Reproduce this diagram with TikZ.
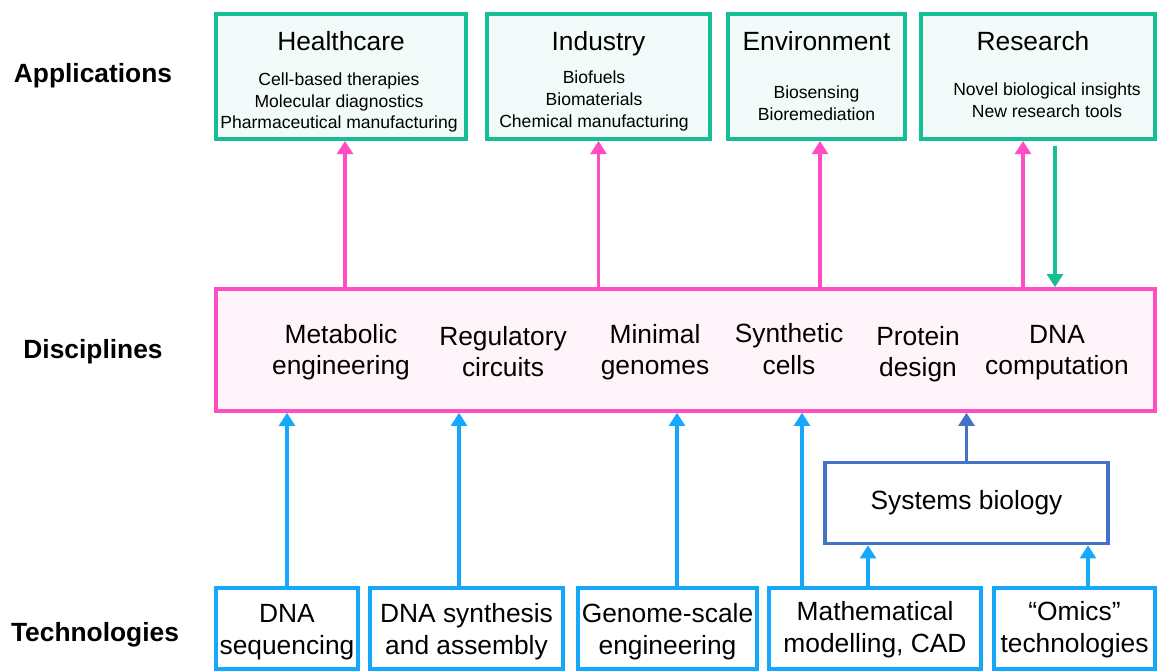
\documentclass[tikz,border=0pt]{standalone}
\usepackage{fontspec}
\setmainfont{Liberation Sans}
\usepackage{xcolor}
\usepackage{tikz}
\usetikzlibrary{positioning,arrows.meta,calc}
\definecolor{appGreen}{RGB}{22,190,150}
\definecolor{appFill}{RGB}{242,251,250}
\definecolor{discPink}{RGB}{255,77,196}
\definecolor{discFill}{RGB}{255,244,250}
\definecolor{sysBlue}{RGB}{68,114,196}
\definecolor{techBlue}{RGB}{22,168,250}
\newcommand{\techtext}[2][-5.5pt]{\raisebox{#1}[0pt][0pt]{\begin{tabular}{@{}c@{}}#2\end{tabular}}}

\begin{document}
\begin{tikzpicture}[
    x=0.02cm, y=-0.02cm,
    appbox/.style={draw=appGreen, line width=2.2pt, fill=appFill, minimum height=2.5cm, inner sep=0pt},
    apptitle/.style={font=\fontsize{15}{18}\selectfont, inner sep=0pt, anchor=base},
    applist/.style={align=center, font=\fontsize{10}{12.4}\selectfont, inner sep=0pt},
    discbox/.style={draw=discPink, line width=2pt, fill=discFill, minimum width=18.78cm, minimum height=2.44cm, inner sep=0pt},
    disclabel/.style={align=center, font=\fontsize{15}{17.8}\selectfont, inner sep=0pt},
    sysbox/.style={draw=sysBlue, line width=2pt, fill=white, minimum width=5.66cm, minimum height=1.62cm, font=\fontsize{15}{18}\selectfont},
    techbox/.style={draw=techBlue, line width=2.2pt, fill=white, minimum height=1.62cm, inner sep=0pt, font=\fontsize{15}{18.4}\selectfont},
    rowlabel/.style={font=\fontsize{15}{18}\selectfont\bfseries, inner sep=0pt},
    pinkarrow/.style={draw=discPink, line width=1.8pt, -{Triangle[width=9pt,length=7.5pt]}},
    greenarrow/.style={draw=appGreen, line width=1.8pt, -{Triangle[width=9pt,length=7.5pt]}},
    bluearrow/.style={draw=techBlue, line width=1.8pt, -{Triangle[width=9pt,length=7.5pt]}},
    sysarrow/.style={draw=sysBlue, line width=1.8pt, -{Triangle[width=9pt,length=7.5pt]}}
]
    \useasboundingbox (0,0) rectangle (1159,671);

    % row labels
    \node[rowlabel] (lapp) at (93,76) {Applications};
    \node[rowlabel] (ldisc) at (93,352) {Disciplines};
    \node[rowlabel] (ltech) at (95,635) {Technologies};

    % applications
    \node[appbox, minimum width=5.0cm] (a1) at (341,76.5) {};
    \node[appbox, minimum width=4.46cm] (a2) at (598.5,76.5) {};
    \node[appbox, minimum width=3.54cm] (a3) at (816.5,76.5) {};
    \node[appbox, minimum width=4.68cm] (a4) at (1038,76.5) {};

    \node[apptitle] (a1t) at (341,51) {Healthcare};
    \node[apptitle] (a2t) at (598.5,51) {Industry};
    \node[apptitle] (a3t) at (816.5,51) {Environment};
    \node[apptitle] (a4t) at (1033,51) {Research};

    \node[applist] (a1l) at (339,102.5) {Cell-based therapies\\Molecular diagnostics\\Pharmaceutical manufacturing};
    \node[applist] (a2l) at (594,101) {Biofuels\\Biomaterials\\Chemical manufacturing};
    \node[applist] (a3l) at (816.5,103) {Biosensing\\Bioremediation};
    \node[applist] (a4l) at (1047,100.5) {Novel biological insights\\New research tools};

    % disciplines
    \node[discbox] (d) at (685.5,350) {};
    \node[disclabel] (m1) at (341,352) {Metabolic\\engineering};
    \node[disclabel] (m2) at (503,351.5) {Regulatory\\circuits};
    \node[disclabel] (m3) at (655,352) {Minimal\\genomes};
    \node[disclabel] (m4) at (789,349) {Synthetic\\cells};
    \node[disclabel] (m5) at (918,354) {Protein\\design};
    \node[disclabel] (m6) at (1057,353) {DNA\\computation};

    % systems biology
    \node[sysbox] (sb) at (966.5,503) {Systems biology};

    % technologies
    \node[techbox, minimum width=2.84cm] (t1) at (287,628.5) {\techtext{DNA\\sequencing}};
    \node[techbox, minimum width=3.86cm] (t2) at (466.5,628.5) {\techtext{DNA synthesis\\and assembly}};
    \node[techbox, minimum width=3.58cm] (t3) at (667.5,628.5) {\techtext{Genome-scale\\engineering}};
    \node[techbox, minimum width=4.24cm] (t4) at (875,628.5) {\techtext[-4.5pt]{Mathematical\\modelling, CAD}};
    \node[techbox, minimum width=3.22cm] (t5) at (1074.5,628.5) {\techtext[-4.5pt]{``Omics''\\technologies}};

    % arrow ends
    \coordinate (r1) at ($(a4.south)+(-15,0)$);
    \coordinate (r2) at ($(a4.south)+(17,5)$);
    \coordinate (b2) at ($(t2.north)+(-7.5,0)$);
    \coordinate (b3) at ($(t3.north)+(9.5,0)$);
    \coordinate (b4) at ($(t4.north)+(-73,0)$);
    \coordinate (b5) at ($(t4.north)+(-7,0)$);
    \coordinate (b6) at ($(t5.north)+(13.5,0)$);

    \draw[pinkarrow] ($(d.north -| a1.south)+(4,0)$) -- ($(a1.south)+(4,0)$);
    \draw[pinkarrow] (d.north -| a2.south) -- (a2.south);
    \draw[pinkarrow] ($(d.north -| a3.south)+(3.5,0)$) -- ($(a3.south)+(3.5,0)$);
    \draw[pinkarrow] (d.north -| r1) -- (r1);
    \draw[greenarrow] (r2) -- (r2 |- d.north);

    \draw[bluearrow] (t1.north) -- (t1.north |- d.south);
    \draw[bluearrow] (b2) -- (b2 |- d.south);
    \draw[bluearrow] (b3) -- (b3 |- d.south);
    \draw[bluearrow] (b4) -- (b4 |- d.south);
    \draw[bluearrow] (b5) -- (b5 |- sb.south);
    \draw[bluearrow] (b6) -- (b6 |- sb.south);
    \draw[sysarrow] (sb.north) -- (sb.north |- d.south);
\end{tikzpicture}
\end{document}
